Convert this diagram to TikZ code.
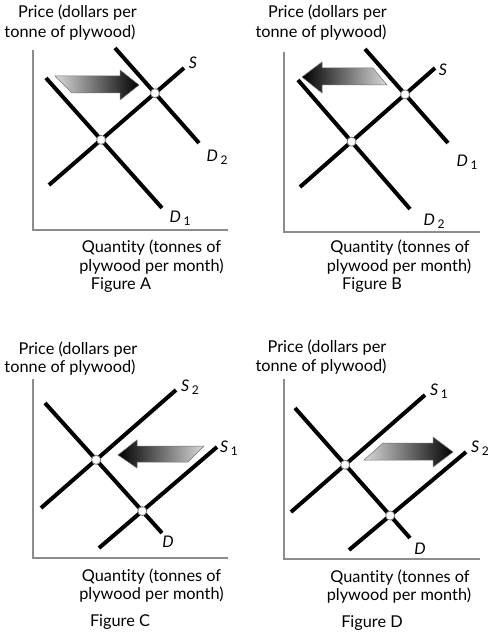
\documentclass[tikz,border=0pt]{standalone}
\usepackage{fontspec}
\setmainfont[Ligatures={NoCommon}]{Lato}
\newcommand\lsub[1]{\,\raisebox{-3pt}{\fontsize{12}{13}\selectfont\upshape #1}}
\begin{document}
\begin{tikzpicture}[x=1pt,y=-1pt,
  curve/.style={line width=4pt,black},
  axis/.style={line width=1.2pt,draw=black!45},
  eq/.style={circle,fill=white,draw=black!50,line width=0.8pt,inner sep=0pt,minimum size=9pt},
  txt/.style={font=\fontsize{16.3}{19}\selectfont,inner sep=0pt},
  lab/.style={font=\fontsize{16}{19}\selectfont\itshape,inner sep=0pt},
  shiftarrow/.style={draw=black!55,line width=0.5pt}]
\useasboundingbox[fill=white] (0,0) rectangle (492,639);

% ================= Figure A =================
\draw[axis] (33,50) -- (33,230) -- (228,230);
\coordinate (sAa) at (49,185); \coordinate (sAb) at (184,68);
\coordinate (d1Aa) at (46,78); \coordinate (d1Ab) at (162,208);
\coordinate (d2Aa) at (115,48); \coordinate (d2Ab) at (199,143);
\draw[curve] (sAa) -- (sAb);
\draw[curve] (d1Aa) -- (d1Ab);
\draw[curve] (d2Aa) -- (d2Ab);
\node[eq] (eA1) at (intersection of sAa--sAb and d1Aa--d1Ab) {};
\node[eq] (eA2) at (intersection of sAa--sAb and d2Aa--d2Ab) {};
\shade[shiftarrow,left color=black!15,right color=black]
  (55,76) -- (120,76) -- (120,70) -- (139,85) -- (120,100) -- (120,93) -- (72,93) -- cycle;
\node[lab] (lSA) at (193,63) {S};
\node[lab] (lD2A) at (217,157) {D\lsub{2}};
\node[lab] (lD1A) at (180,218) {D\lsub{1}};
\node[txt] (pA1) at (77.5,13) {Price (dollars per};
\node[txt] (pA2) at (70,33) {tonne of plywood)};
\node[txt] (qA1) at (151.5,248) {Quantity (tonnes of};
\node[txt] (qA2) at (151.5,267) {plywood per month)};
\node[txt] (fA) at (121,285) {Figure A};

% ================= Figure B =================
\draw[axis] (284,52) -- (284,232) -- (480,232);
\coordinate (sBa) at (300,187); \coordinate (sBb) at (435,68);
\coordinate (d1Ba) at (365,49); \coordinate (d1Bb) at (448,143);
\coordinate (d2Ba) at (298,80); \coordinate (d2Bb) at (410,209);
\draw[curve] (sBa) -- (sBb);
\draw[curve] (d1Ba) -- (d1Bb);
\draw[curve] (d2Ba) -- (d2Bb);
\node[eq] (eB1) at (intersection of sBa--sBb and d2Ba--d2Bb) {};
\node[eq] (eB2) at (intersection of sBa--sBb and d1Ba--d1Bb) {};
\shade[shiftarrow,left color=black,right color=black!15]
  (302,77) -- (322,62) -- (322,68) -- (373,68) -- (387,85) -- (322,85) -- (322,93) -- cycle;
\node[lab] (lSB) at (443,70) {S};
\node[lab] (lD1B) at (467,162) {D\lsub{1}};
\node[lab] (lD2B) at (434,221) {D\lsub{2}};
\node[txt] (pB1) at (327.5,13) {Price (dollars per};
\node[txt] (pB2) at (321,33) {tonne of plywood)};
\node[txt] (qB1) at (400,248) {Quantity (tonnes of};
\node[txt] (qB2) at (399,267) {plywood per month)};
\node[txt] (fB) at (372,285) {Figure B};

% ================= Figure C =================
\draw[axis] (33,379) -- (33,558) -- (228,558);
\coordinate (dCa) at (45,403); \coordinate (dCb) at (162,533);
\coordinate (s2Ca) at (41,508); \coordinate (s2Cb) at (176,390);
\coordinate (s1Ca) at (99,548); \coordinate (s1Cb) at (217,447);
\draw[curve] (dCa) -- (dCb);
\draw[curve] (s2Ca) -- (s2Cb);
\draw[curve] (s1Ca) -- (s1Cb);
\node[eq] (eC1) at (intersection of dCa--dCb and s2Ca--s2Cb) {};
\node[eq] (eC2) at (intersection of dCa--dCb and s1Ca--s1Cb) {};
\shade[shiftarrow,left color=black,right color=black!15]
  (118,455) -- (137,440) -- (137,446) -- (204,446) -- (188,462) -- (137,462) -- (137,468) -- cycle;
\node[lab] (lS2C) at (190,387) {S\lsub{2}};
\node[lab] (lS1C) at (229,448) {S\lsub{1}};
\node[lab] (lDC) at (168,542) {D};
\node[txt] (pC1) at (78,350) {Price (dollars per};
\node[txt] (pC2) at (70,368) {tonne of plywood)};
\node[txt] (qC1) at (151.5,577) {Quantity (tonnes of};
\node[txt] (qC2) at (151.5,595) {plywood per month)};
\node[txt] (fC) at (120,622) {Figure C};

% ================= Figure D =================
\draw[axis] (284,379) -- (284,559) -- (480,559);
\coordinate (dDa) at (295,408); \coordinate (dDb) at (410,538);
\coordinate (s1Da) at (291,512); \coordinate (s1Db) at (425,395);
\coordinate (s2Da) at (349,550); \coordinate (s2Db) at (466,452);
\draw[curve] (dDa) -- (dDb);
\draw[curve] (s1Da) -- (s1Db);
\draw[curve] (s2Da) -- (s2Db);
\node[eq] (eD1) at (intersection of dDa--dDb and s1Da--s1Db) {};
\node[eq] (eD2) at (intersection of dDa--dDb and s2Da--s2Db) {};
\shade[shiftarrow,left color=black!15,right color=black]
  (364,460) -- (383,443) -- (433,443) -- (433,437) -- (453,452) -- (433,467) -- (433,460) -- cycle;
\node[lab] (lS1D) at (439,391) {S\lsub{1}};
\node[lab] (lS2D) at (480,448) {S\lsub{2}};
\node[lab] (lDD) at (420,549) {D};
\node[txt] (pD1) at (327,348) {Price (dollars per};
\node[txt] (pD2) at (321,367) {tonne of plywood)};
\node[txt] (qD1) at (400,578) {Quantity (tonnes of};
\node[txt] (qD2) at (399,596) {plywood per month)};
\node[txt] (fD) at (372,623) {Figure D};
\end{tikzpicture}
\end{document}
